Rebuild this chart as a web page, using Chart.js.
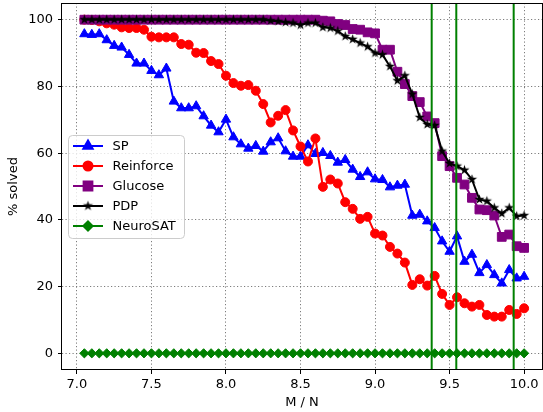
<!DOCTYPE html>
<html lang="en">
<head>
  <meta charset="UTF-8">
  <title>% solved vs M / N</title>
  <script src="https://cdn.jsdelivr.net/npm/chart.js"></script>
  <style>
    html, body { margin: 0; padding: 0; background: white; }
    #graph { display: block; }
  </style>
</head>
<body>
  <canvas id="graph" width="543" height="412"></canvas>

  <script>
    // clause / variable ratio
    const ratios = [
      7.05, 7.10, 7.15, 7.20, 7.25, 7.30, 7.35, 7.40, 7.45, 7.50,
      7.55, 7.60, 7.65, 7.70, 7.75, 7.80, 7.85, 7.90, 7.95, 8.00,
      8.05, 8.10, 8.15, 8.20, 8.25, 8.30, 8.35, 8.40, 8.45, 8.50,
      8.55, 8.60, 8.65, 8.70, 8.75, 8.80, 8.85, 8.90, 8.95, 9.00,
      9.05, 9.10, 9.15, 9.20, 9.25, 9.30, 9.35, 9.40, 9.45, 9.50,
      9.55, 9.60, 9.65, 9.70, 9.75, 9.80, 9.85, 9.90, 9.95, 10.00
    ];

    const sp = [
      95.7, 95.5, 95.7, 93.9, 92.2, 91.7, 89.5, 86.9, 86.9, 84.7,
      83.4, 85.4, 75.5, 73.5, 73.5, 74.1, 71.1, 68.3, 66.3, 70.1,
      64.8, 62.7, 61.4, 62.2, 60.5, 63.3, 64.5, 60.6, 59.0, 59.0,
      62.4, 59.8, 60.1, 59.2, 57.2, 58.0, 55.1, 52.9, 54.3, 52.2,
      52.0, 49.8, 50.3, 50.6, 41.3, 41.6, 39.6, 37.6, 33.6, 30.5,
      35.1, 27.5, 29.6, 24.1, 26.5, 23.5, 21.0, 25.0, 22.5, 23.0
    ];

    const reinforce = [
      100, 99.9, 99.5, 98.9, 98.5, 97.7, 97.5, 97.5, 97.0, 94.9,
      94.7, 94.7, 94.7, 92.7, 92.5, 90.1, 90.0, 87.6, 86.7, 83.2,
      81.0, 80.2, 80.4, 78.7, 74.7, 69.2, 71.2, 72.9, 66.8, 62.0,
      57.5, 64.4, 49.9, 52.1, 50.9, 45.3, 43.3, 40.3, 40.9, 35.9,
      35.3, 31.9, 29.9, 27.2, 20.5, 22.2, 20.3, 23.2, 17.8, 14.5,
      16.8, 15.0, 14.0, 14.5, 11.5, 11.0, 11.0, 13.0, 11.8, 13.5
    ];

    const glucose = [
      100, 100, 100, 100, 100, 100, 100, 100, 100, 100,
      100, 100, 100, 100, 100, 100, 100, 100, 100, 100,
      100, 100, 100, 100, 100, 100, 100, 100, 100, 100,
      100, 100, 99.7, 99.5, 98.7, 98.4, 97.2, 97.0, 96.2, 95.9,
      91.0, 91.0, 84.4, 80.7, 77.1, 75.3, 71.0, 69.0, 59.1, 56.1,
      52.6, 50.6, 46.6, 43.1, 42.9, 41.3, 34.9, 35.6, 32.1, 31.6
    ];

    const pdp = [
      100, 100, 100, 100, 100, 100, 100, 100, 100, 100,
      100, 100, 100, 100, 100, 100, 100, 100, 100, 100,
      100, 100, 100, 100, 100, 99.7, 99.5, 99.2, 99.0, 98.4,
      99.0, 99.0, 97.7, 97.5, 96.6, 95.0, 94.1, 93.0, 91.9, 90.0,
      89.5, 86.0, 81.7, 83.2, 77.7, 70.7, 68.6, 68.3, 60.6, 56.9,
      56.1, 54.9, 52.1, 46.1, 45.6, 43.6, 41.9, 43.6, 41.1, 41.3
    ];

    const neurosat = [
      0, 0, 0, 0, 0, 0, 0, 0, 0, 0,
      0, 0, 0, 0, 0, 0, 0, 0, 0, 0,
      0, 0, 0, 0, 0, 0, 0, 0, 0, 0,
      0, 0, 0, 0, 0, 0, 0, 0, 0, 0,
      0, 0, 0, 0, 0, 0, 0, 0, 0, 0,
      0, 0, 0, 0, 0, 0, 0, 0, 0, 0
    ];

    // vertical green markers
    const thresholds = [9.38, 9.545, 9.93];

    const xTicks = [7.0, 7.5, 8.0, 8.5, 9.0, 9.5, 10.0];
    const yTicks = [0, 20, 40, 60, 80, 100];
    const xMin = 6.9, xMax = 10.12, yMin = -5, yMax = 105;

    // filled five point star, like matplotlib's '*'
    function starMarker(r, color) {
      const c = document.createElement("canvas");
      const s = Math.ceil(r * 2 + 2);
      c.width = s;
      c.height = s;
      const g = c.getContext("2d");
      g.fillStyle = color;
      g.beginPath();
      for (let k = 0; k < 10; k++) {
        const rr = k % 2 ? r * 0.382 : r;
        const a = -Math.PI / 2 + k * Math.PI / 5;
        g.lineTo(s / 2 + rr * Math.cos(a), s / 2 + rr * Math.sin(a));
      }
      g.closePath();
      g.fill();
      return c;
    }

    const series = [
      { label: "SP",        values: sp,        color: "#0000ff", marker: "triangle", size: 5.4 },
      { label: "Reinforce", values: reinforce, color: "#ff0000", marker: "circle",   size: 4.5 },
      { label: "Glucose",   values: glucose,   color: "#800080", marker: "rect",     size: 6.2 },
      { label: "PDP",       values: pdp,       color: "#000000", marker: starMarker(5.3, "#000000"), size: 5.3 },
      { label: "NeuroSAT",  values: neurosat,  color: "#008000", marker: "rectRot",  size: 4.6 }
    ];

    const datasets = series.map((s, i) => ({
      label: s.label,
      data: ratios.map((x, j) => ({ x: x, y: s.values[j] })),
      borderColor: s.color,
      backgroundColor: s.color,
      pointStyle: s.marker,
      pointRadius: s.size,
      pointHoverRadius: s.size,
      pointBorderWidth: 1,
      borderWidth: 2,
      fill: false,
      tension: 0,
      order: series.length - i
    }));

    thresholds.forEach(t => {
      datasets.push({
        label: "",
        data: [{ x: t, y: yMin }, { x: t, y: yMax }],
        borderColor: "#008000",
        borderWidth: 2,
        pointRadius: 0,
        fill: false,
        order: 0
      });
    });

    // full box round the plot, like matplotlib spines
    const spines = {
      id: "spines",
      afterDatasetsDraw(chart) {
        const { ctx, chartArea: a } = chart;
        ctx.save();
        ctx.strokeStyle = "#000";
        ctx.lineWidth = 1;
        ctx.strokeRect(Math.round(a.left) - 0.5, Math.round(a.top) + 0.5,
                       Math.round(a.right - a.left) + 1, Math.round(a.bottom - a.top) - 1);
        ctx.restore();
      }
    };

    // legend with line + marker handles
    const legendBox = {
      id: "legendBox",
      afterDraw(chart) {
        const { ctx, chartArea: a } = chart;
        const x0 = a.left + 6.5, y0 = a.top + 132.5, w = 116, h = 103;
        ctx.save();
        ctx.beginPath();
        ctx.roundRect(x0, y0, w, h, 4);
        ctx.fillStyle = "rgba(255,255,255,0.8)";
        ctx.fill();
        ctx.strokeStyle = "#cccccc";
        ctx.lineWidth = 1;
        ctx.stroke();
        ctx.font = "13px 'DejaVu Sans'";
        ctx.textBaseline = "middle";
        series.forEach((s, i) => {
          const cy = y0 + 10.5 + i * 20;
          ctx.beginPath();
          ctx.moveTo(x0 + 4.5, cy);
          ctx.lineTo(x0 + 34.5, cy);
          ctx.strokeStyle = s.color;
          ctx.lineWidth = 2;
          ctx.stroke();
          ctx.fillStyle = s.color;
          Chart.helpers.drawPoint(ctx, {
            pointStyle: s.marker, radius: s.size, rotation: 0, borderWidth: 1
          }, x0 + 19.5, cy);
          ctx.fillStyle = "#000";
          ctx.fillText(s.label, x0 + 44, cy + 1);
        });
        ctx.restore();
      }
    };

    Chart.defaults.font.family = "'DejaVu Sans', sans-serif";
    Chart.defaults.font.size = 13;
    Chart.defaults.color = "#000";

    const gridStyle = {
      color: "rgba(110,110,110,0.9)",
      lineWidth: 1,
      drawTicks: true,
      tickLength: 4,
      tickColor: "#000",
      tickWidth: 1
    };
    const dotted = { display: false, dash: [1.2, 2.3] };

    new Chart(document.getElementById("graph"), {
      type: "line",
      data: { datasets: datasets },
      plugins: [spines, legendBox],
      options: {
        responsive: false,
        animation: false,
        events: [],
        layout: { autoPadding: false, padding: { top: 3, right: 1, left: 0, bottom: 0 } },
        plugins: {
          legend: { display: false },
          tooltip: { enabled: false }
        },
        scales: {
          x: {
            type: "linear",
            min: xMin,
            max: xMax,
            border: dotted,
            grid: gridStyle,
            afterBuildTicks: scale => { scale.ticks = xTicks.map(v => ({ value: v })); },
            afterFit: scale => {
              scale.height = 42;
              scale.paddingLeft = 0;
              scale.paddingRight = 0;
            },
            ticks: {
              padding: 3,
              maxRotation: 0,
              callback: v => v.toFixed(1)
            },
            title: { display: true, text: "M / N", padding: { top: 0, bottom: 2 } }
          },
          y: {
            type: "linear",
            min: yMin,
            max: yMax,
            border: dotted,
            grid: gridStyle,
            afterBuildTicks: scale => { scale.ticks = yTicks.map(v => ({ value: v })); },
            afterFit: scale => {
              scale.width = 62;
              scale.paddingTop = 0;
              scale.paddingBottom = 0;
            },
            ticks: { padding: 5 },
            title: { display: true, text: "% solved", padding: { top: 6, bottom: 0 } }
          }
        }
      }
    });
  </script>
</body>
</html>
